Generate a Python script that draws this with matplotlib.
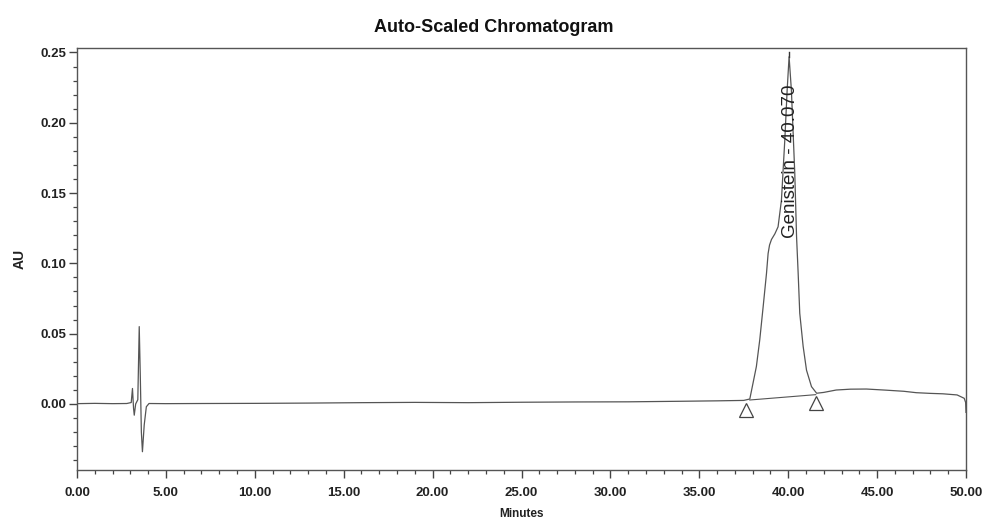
import matplotlib
matplotlib.use("Agg")
import matplotlib.pyplot as plt
from matplotlib.ticker import MultipleLocator, FormatStrFormatter

plt.rcParams['font.family'] = ['Liberation Sans', 'DejaVu Sans']

# Chromatogram trace (minutes, AU)
minutes = [0.0, 1.0, 2.0, 2.8, 3.05, 3.12, 3.18, 3.22, 3.3, 3.42, 3.5, 3.56, 3.62,
           3.68, 3.78, 3.9, 4.05, 5.0, 7.0, 10.0, 13.0, 16.0, 19.0, 22.0, 25.0,
           28.0, 31.0, 34.0, 36.0, 37.5, 37.84, 38.02, 38.21, 38.4, 38.59, 38.78,
           38.87, 38.95, 39.06, 39.25, 39.43, 39.62, 39.81, 39.94, 40.05, 40.18,
           40.37, 40.47, 40.56, 40.65, 40.84, 41.03, 41.31, 41.6, 42.0, 42.7,
           43.5, 44.4, 45.5, 46.5, 47.2, 48.0, 48.7, 49.5, 49.9, 49.98, 50.0]
au = [0.0002, 0.0004, 0.0002, 0.0003, 0.001, 0.011, -0.003, -0.008, 0.0, 0.003,
      0.055, 0.02, -0.02, -0.034, -0.015, -0.002, 0.0003, 0.0002, 0.0003, 0.0004,
      0.0006, 0.0009, 0.0011, 0.0009, 0.0012, 0.0014, 0.0015, 0.0019, 0.0022,
      0.0025, 0.0035, 0.0147, 0.0266, 0.0456, 0.069, 0.093, 0.107, 0.113, 0.117,
      0.121, 0.126, 0.145, 0.188, 0.223, 0.247, 0.223, 0.164, 0.119, 0.093,
      0.0645, 0.041, 0.024, 0.0123, 0.0076, 0.0082, 0.0099, 0.0105, 0.0106,
      0.0098, 0.009, 0.008, 0.0075, 0.0072, 0.0064, 0.004, 0.001, -0.006]

# Integration baseline and markers
base_minutes = [37.84, 41.55]
base_au = [0.0028, 0.0066]
marker_minutes = [37.63, 41.57]
marker_au = [-0.0043, 0.0005]

peak_label = "Genistein - 40.070"
peak_time = 40.07
peak_top = 0.247

x_ticks = [0, 5, 10, 15, 20, 25, 30, 35, 40, 45, 50]
y_ticks = [0.00, 0.05, 0.10, 0.15, 0.20, 0.25]

fig = plt.figure(figsize=(9.85, 5.2), dpi=100)
ax = fig.add_axes([77/985, 1 - 470/520, (966 - 77)/985, (470 - 48)/520])

line_color = '#555555'
ax.plot(minutes, au, color=line_color, lw=0.9)
ax.plot(base_minutes, base_au, color=line_color, lw=0.8)
ax.plot(marker_minutes, marker_au, linestyle='none', marker='^', markersize=10,
        markerfacecolor='white', markeredgecolor='#444444', markeredgewidth=0.9)

# peak label line & text
ax.plot([peak_time, peak_time], [peak_top, 0.2505], color='#333333', lw=1.0)
ax.text(peak_time + 0.05, 0.118, peak_label, rotation=90, ha='center', va='bottom',
        fontsize=13.5, color='#222222')

ax.set_xlim(0, 50)
ax.set_ylim(-0.047, 0.2532)
ax.set_xticks(x_ticks)
ax.set_yticks(y_ticks)
ax.xaxis.set_minor_locator(MultipleLocator(1))
ax.yaxis.set_minor_locator(MultipleLocator(0.01))
ax.xaxis.set_major_formatter(FormatStrFormatter('%.2f'))
ax.yaxis.set_major_formatter(FormatStrFormatter('%.2f'))
ax.tick_params(which='major', direction='out', length=6, width=1.0, color='#444444',
               labelsize=9.5, labelcolor='#222222', pad=1.5)
ax.tick_params(axis='x', which='major', pad=6)
ax.tick_params(which='minor', direction='out', length=3, width=0.9, color='#444444')
for lbl in ax.get_xticklabels() + ax.get_yticklabels():
    lbl.set_fontweight('bold')
for s in ax.spines.values():
    s.set_color('#555555')
    s.set_linewidth(1.0)

fig.text(494/985, 1 - 28/520, "Auto-Scaled Chromatogram", fontsize=13,
         fontweight='bold', ha='center', va='center', color='#111111')
ax.set_ylabel("AU", fontsize=10, fontweight='bold', labelpad=10, color='#222222')
ax.set_xlabel("Minutes", fontsize=8.5, fontweight='bold', labelpad=7, color='#222222')

fig.savefig("out.png", dpi=100, facecolor='white')
